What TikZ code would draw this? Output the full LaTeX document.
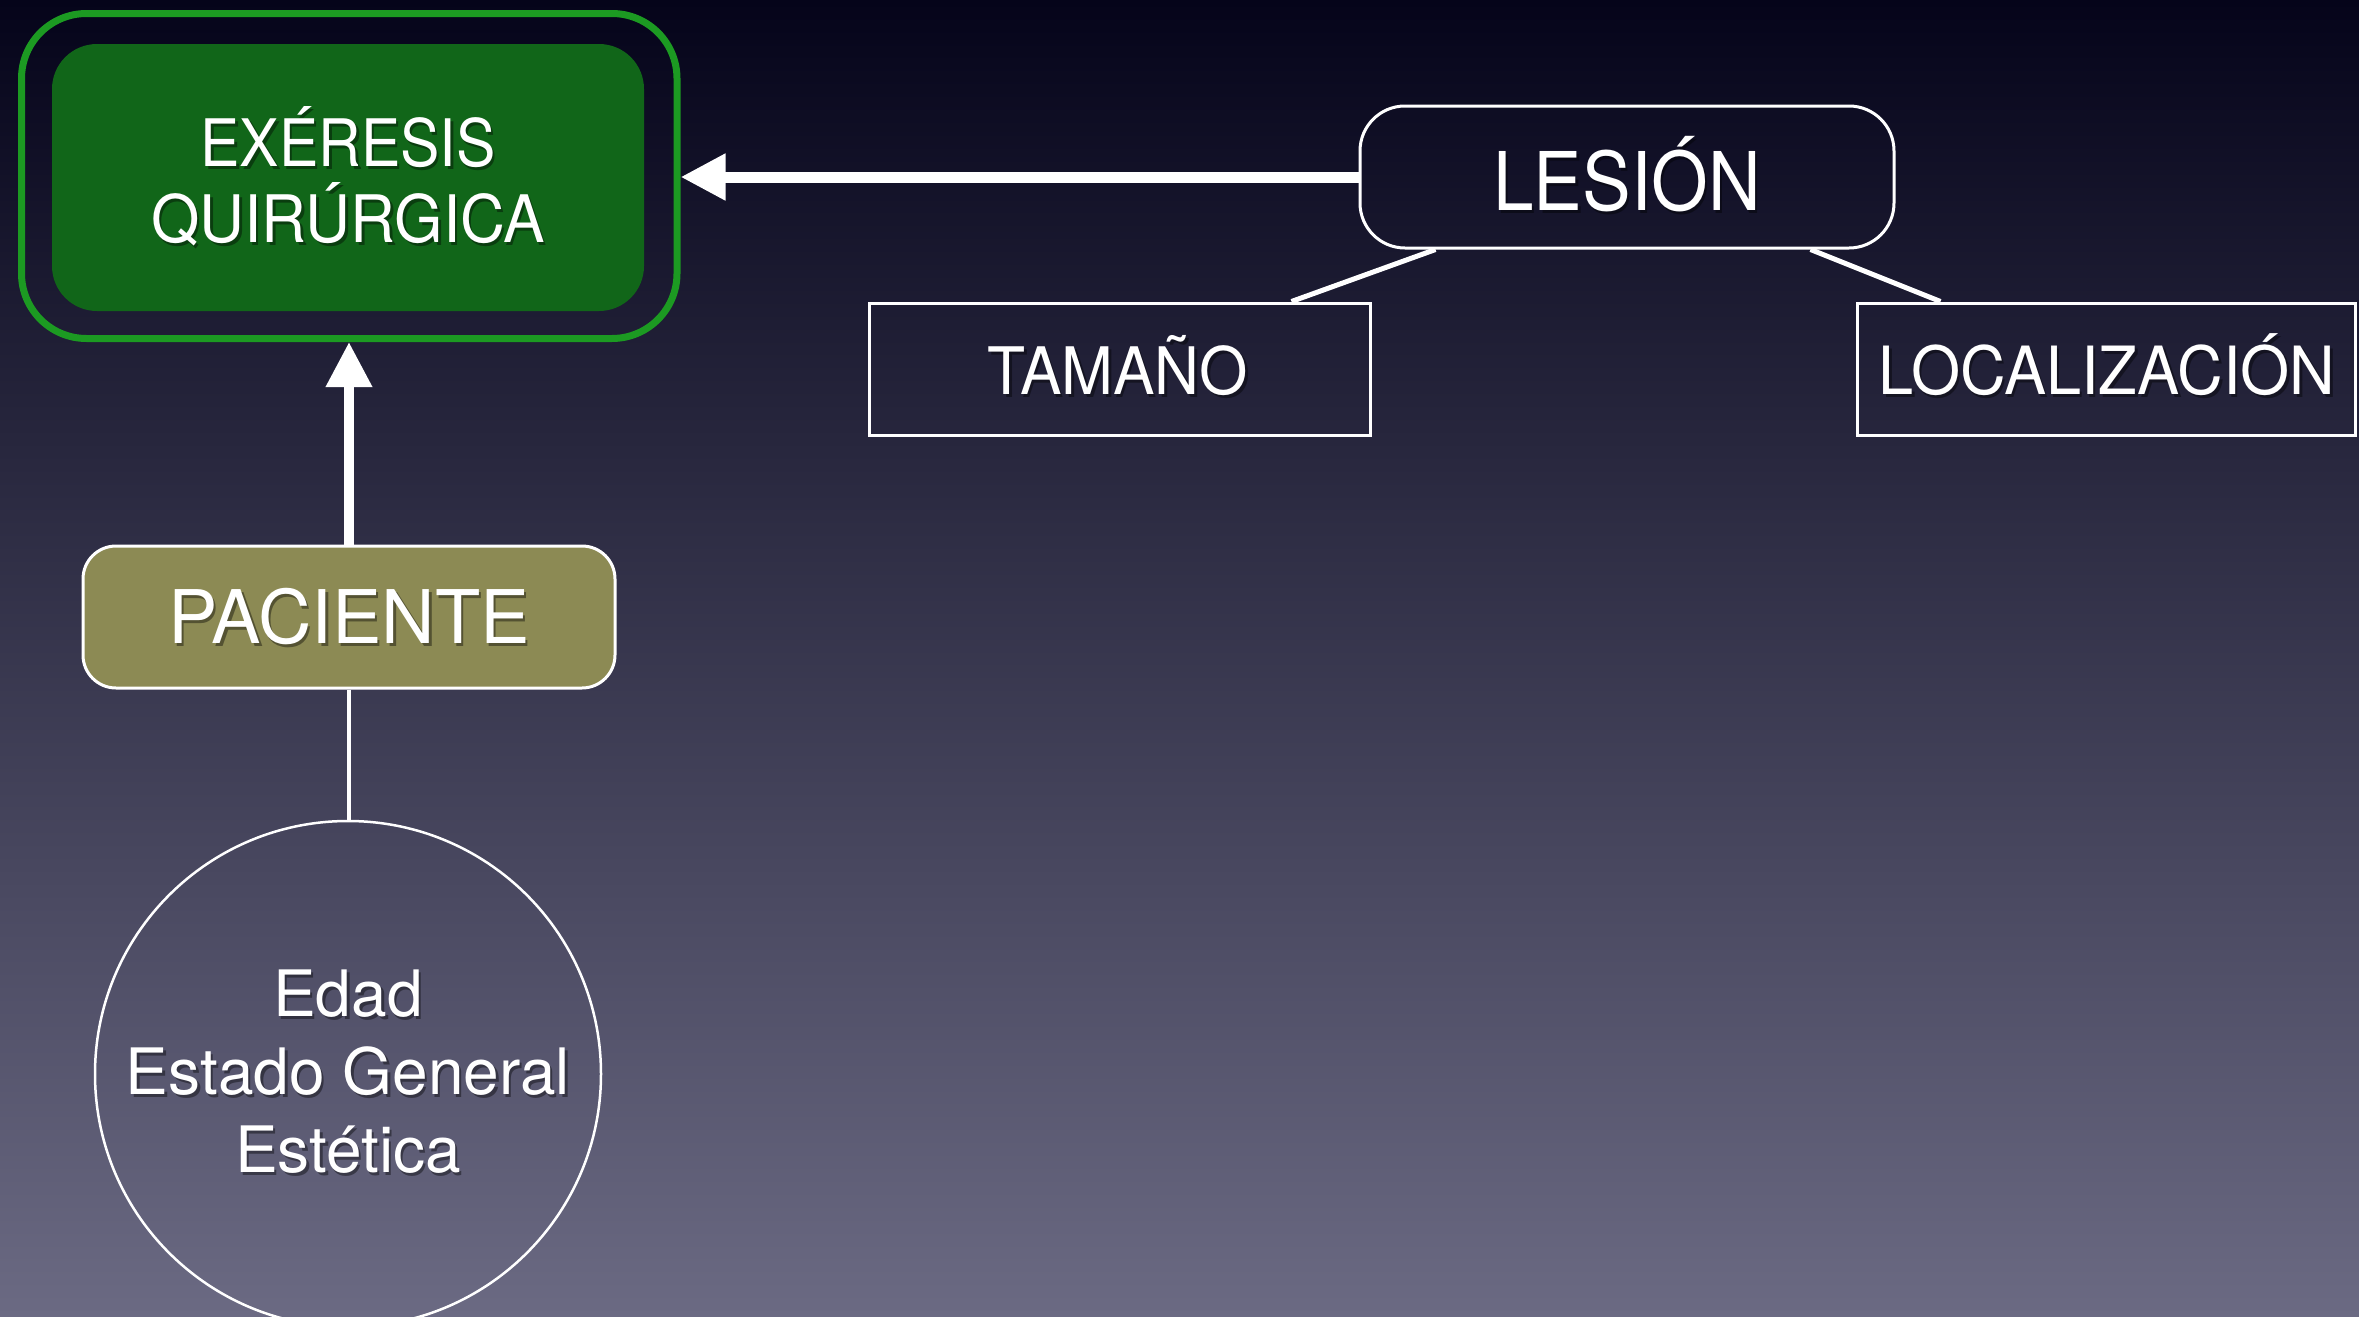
\documentclass[tikz,border=0pt]{standalone}
\usepackage{fontspec}
\setmainfont{TeX Gyre Heros}
\newfontfamily\condfont{TeX Gyre Heros}[FakeStretch=0.9]
\newfontfamily\narrowfont{TeX Gyre Heros}[FakeStretch=0.95]
\usetikzlibrary{arrows.meta,calc}

\definecolor{bgtop}{HTML}{05041A}
\definecolor{bgmid}{HTML}{2F2E58}
\definecolor{bgbot}{HTML}{6B6A83}
\definecolor{framegreen}{HTML}{1C9A22}
\definecolor{fillgreen}{HTML}{116619}
\definecolor{olive}{HTML}{8C8A54}

\tikzset{
  txt/.style={text=white, anchor=base, inner sep=0pt},
  txtshadow/.style={text=black, text opacity=0.4, anchor=base, inner sep=0pt},
  outline/.style={draw=white, line width=3pt, inner sep=0pt},
  link/.style={draw=white, line width=5pt},
  bigarrow/.style={draw=white, -{Triangle[length=45pt,width=44pt]}},
}

% a line of text with a soft drop shadow: name, position, font, text
\newcommand\castline[4]{%
  \node[txtshadow, font=#3] (#1-sh) at ([shift={(2.5pt,-3pt)}]#2) {#4};
  \node[txt, font=#3] (#1) at (#2) {#4};}

\begin{document}
\begin{tikzpicture}[x=1pt, y=-1pt]
  \useasboundingbox (0,0) rectangle (2359,1317);
  \shade[top color=bgtop, middle color=bgmid, bottom color=bgbot] (0,0) rectangle (2359,1317);

  % boxes
  \node[draw=framegreen, line width=7pt, rounded corners=65pt, minimum width=655.5pt,
        minimum height=325pt, inner sep=0pt] (frame) at (349.25,176) {};
  \node[fill=fillgreen, rounded corners=45pt, minimum width=592pt, minimum height=267pt,
        inner sep=0pt] (core) at (348,177.5) {};
  \node[outline, rounded corners=45pt, minimum width=534pt, minimum height=142pt] (lesion) at (1627,177) {};
  \node[outline, minimum width=501pt, minimum height=132pt] (tamano) at (1119.5,369) {};
  \node[outline, minimum width=498pt, minimum height=132pt] (localizacion) at (2106,369) {};
  \node[outline, fill=olive, rounded corners=33pt, minimum width=532pt, minimum height=142pt] (paciente) at (349,617) {};
  \node[outline, line width=2.5pt, circle, minimum size=506pt] (factores) at (348,1074) {};

  % connectors
  \draw[bigarrow, line width=11pt] (lesion.west) -- (lesion.west -| frame.east);
  \draw[bigarrow, line width=10pt] (paciente.north) -- (paciente.north |- frame.south);
  \draw[draw=white, line width=4pt] (paciente.south) -- (paciente.south |- factores.north);
  \draw[link] ([xshift=77pt]lesion.south west) -- ([xshift=424pt]tamano.north west);
  \draw[link] ([xshift=-85pt]lesion.south east) -- ([xshift=85pt]localizacion.north west);

  % labels
  \castline{exeresis-a}{348,166}{\condfont\fontsize{65.5}{76}\selectfont}{EXÉRESIS}
  \castline{exeresis-b}{348,242}{\narrowfont\fontsize{65.5}{76}\selectfont}{QUIRÚRGICA}
  \castline{lesion-t}{1627,210}{\condfont\fontsize{81}{90}\selectfont}{LESIÓN}
  \castline{tamano-t}{1118,394}{\narrowfont\fontsize{65.5}{76}\selectfont}{TAMAÑO}
  \castline{localizacion-t}{2107,394}{\narrowfont\fontsize{66.5}{76}\selectfont}{LOCALIZACIÓN}
  \castline{paciente-t}{349,643}{\fontsize{74}{80}\selectfont}{PACIENTE}
  \castline{edad}{348,1016}{\fontsize{64}{78}\selectfont}{Edad}
  \castline{estado}{348,1094}{\fontsize{64}{78}\selectfont}{Estado General}
  \castline{estetica}{348,1172}{\fontsize{64}{78}\selectfont}{Estética}
\end{tikzpicture}
\end{document}
